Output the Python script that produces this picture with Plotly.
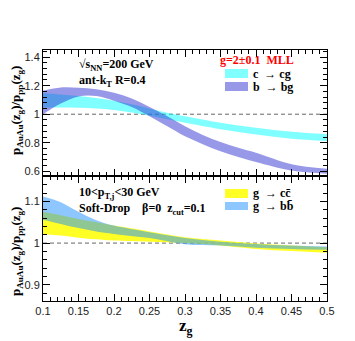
"""
Ratio of AuAu / pp groomed momentum-sharing distributions, heavy-flavour splittings
"""

import numpy as np
import plotly.graph_objects as go

# top panel: c -> cg and b -> bg bands
zg_c = [0.1, 0.125, 0.15, 0.175, 0.2, 0.225, 0.25, 0.275, 0.3, 0.35, 0.4, 0.45, 0.5]
c_cg_hi = [1.148, 1.138, 1.127, 1.113, 1.095, 1.07, 1.04, 1.01, 0.985, 0.94, 0.905, 0.877, 0.86]
c_cg_lo = [1.047, 1.047, 1.045, 1.040, 1.030, 1.012, 0.99, 0.965, 0.94, 0.895, 0.858, 0.828, 0.812]

zg_b = [0.1, 0.125, 0.15, 0.175, 0.2, 0.225, 0.25, 0.275, 0.3, 0.325, 0.35, 0.375, 0.4, 0.45, 0.5]
b_bg_hi = [1.165, 1.188, 1.186, 1.175, 1.150, 1.110, 1.050, 0.985, 0.915, 0.855, 0.805, 0.765, 0.730, 0.650, 0.618]
b_bg_lo = [1.000, 1.075, 1.125, 1.128, 1.095, 1.050, 0.985, 0.915, 0.845, 0.790, 0.740, 0.700, 0.665, 0.605, 0.583]

# bottom panel: g -> cc and g -> bb bands
zg_g = [0.1, 0.125, 0.15, 0.175, 0.2, 0.25, 0.3, 0.35, 0.4, 0.45, 0.5]
g_cc_hi = [1.075, 1.067, 1.058, 1.050, 1.042, 1.028, 1.014, 1.006, 0.999, 0.994, 0.990]
g_cc_lo = [1.022, 1.018, 1.013, 1.009, 1.006, 1.003, 1.000, 0.994, 0.986, 0.981, 0.977]
g_bb_hi = [1.112, 1.098, 1.075, 1.055, 1.042, 1.026, 1.012, 1.003, 0.998, 0.994, 0.992]
g_bb_lo = [1.056, 1.046, 1.036, 1.028, 1.022, 1.012, 0.997, 0.994, 0.989, 0.986, 0.984]

x_ticks = [0.1, 0.15, 0.2, 0.25, 0.3, 0.35, 0.4, 0.45, 0.5]
x_ticklabels = ['0.1', '0.15', '0.2', '0.25', '0.3', '0.35', '0.4', '0.45', '0.5']

W, H = 355, 341
L, R, T, B = 35, 319, 42, 293   # plot frame in pixels

SERIF = 'Liberation Serif'
SANS = 'Liberation Sans'

CYAN = 'rgba(0,255,255,0.5)'
PURPLE = 'rgba(50,50,210,0.5)'
YELLOW = 'rgba(255,255,0,0.85)'
BLUE = 'rgba(30,144,255,0.5)'


def px(xp):
    return (xp - L) / (R - L)


def py(yp):
    return (B - yp) / (B - T)


def add_band(fig, x, lo, hi, color, xa, ya):
    fig.add_trace(go.Scatter(x=x, y=lo, mode='lines', line=dict(width=0, shape='spline'),
                             showlegend=False, hoverinfo='skip', xaxis=xa, yaxis=ya))
    fig.add_trace(go.Scatter(x=x, y=hi, mode='lines', line=dict(width=0, shape='spline'),
                             fill='tonexty', fillcolor=color, showlegend=False,
                             xaxis=xa, yaxis=ya))


fig = go.Figure()
add_band(fig, zg_c, c_cg_lo, c_cg_hi, CYAN, 'x', 'y')
add_band(fig, zg_b, b_bg_lo, b_bg_hi, PURPLE, 'x', 'y')
add_band(fig, zg_g, g_cc_lo, g_cc_hi, YELLOW, 'x2', 'y2')
add_band(fig, zg_g, g_bb_lo, g_bb_hi, BLUE, 'x2', 'y2')

split = (B - 168) / (B - T)

axis_common = dict(
    showline=True, linecolor='black', linewidth=1, mirror='allticks',
    ticks='inside', ticklen=7, tickwidth=1, tickcolor='black',
    showgrid=False, zeroline=False,
    tickfont=dict(family=SANS, size=11, color='#222'),
)

fig.update_layout(
    width=W, height=H,
    margin=dict(l=L, r=W - R, t=T, b=H - B),
    paper_bgcolor='white', plot_bgcolor='white',
    xaxis=dict(axis_common, domain=[0, 1], anchor='y', range=[0.1, 0.5],
               tickvals=x_ticks, showticklabels=False,
               minor=dict(ticks='inside', ticklen=4, dtick=0.01, tick0=0.1, tickcolor='black')),
    yaxis=dict(axis_common, domain=[split, 1], anchor='x', range=[0.567, 1.45],
               tickvals=[0.6, 0.8, 1.0, 1.2, 1.4], ticktext=['0.6', '0.8', '1', '1.2', '1.4'],
               minor=dict(ticks='inside', ticklen=4, dtick=0.04, tick0=0.6, tickcolor='black')),
    xaxis2=dict(axis_common, domain=[0, 1], anchor='y2', range=[0.1, 0.5],
                tickvals=x_ticks, ticktext=x_ticklabels,
                minor=dict(ticks='inside', ticklen=4, dtick=0.01, tick0=0.1, tickcolor='black')),
    yaxis2=dict(axis_common, domain=[0, split], anchor='x2', range=[0.861, 1.161],
                tickvals=[0.9, 1.0, 1.1], ticktext=['0.9', '1', '1.1'],
                minor=dict(ticks='inside', ticklen=4, dtick=0.02, tick0=0.86, tickcolor='black')),
)

# reference lines at unity
for ya, xa in [('y', 'x'), ('y2', 'x2')]:
    fig.add_shape(type='line', xref=xa, yref=ya, x0=0.1, x1=0.5, y0=1, y1=1,
                  line=dict(color='#666', width=1, dash='4px,3px'), layer='below')

ann = []


def text(s, xp, yp, size=12, color='black', anchor='left', angle=0, family=SERIF):
    ann.append(dict(text=s, x=px(xp), y=py(yp), xref='paper', yref='paper',
                    xanchor=anchor, yanchor='middle', showarrow=False, textangle=angle,
                    font=dict(family=family, size=size, color=color)))


text('<b>√s<sub>NN</sub>=200 GeV</b>', 69, 57)
text('<b>ant-k<sub>T</sub> R=0.4</b>', 69, 73)
text('<b>g=2±0.1  MLL</b>', 210, 52, color='red')
text('<b>c\u00a0\u00a0→ cg</b>', 243, 66)
text('<b>b\u00a0\u00a0→ bg</b>', 243, 79)

text('<b>10<p<sub>T,j</sub><30 GeV</b>', 69, 185)
text('<b>Soft-Drop\u00a0\u00a0\u00a0\u00a0β=0\u00a0\u00a0z<sub>cut</sub>=0.1</b>', 69, 201)
text('<b>g\u00a0\u00a0→ cc\u0304</b>', 243, 185)
text('<b>g\u00a0\u00a0→ bb\u0304</b>', 243, 198)

ytitle = '<b>p<sub>AuAu</sub>(z<sub>g</sub>)/p<sub>pp</sub>(z<sub>g</sub>)</b>'
text(ytitle, 8, 103, size=13, anchor='center', angle=-90)
text(ytitle, 8, 244, size=13, anchor='center', angle=-90)
text('<b>z<sub>g</sub></b>', 178, 319, size=17, anchor='center')

fig.update_layout(annotations=ann)

# legend swatches
for y0, y1, col in [(61, 70, CYAN), (74, 83, PURPLE), (181, 190, YELLOW), (194, 202, BLUE)]:
    fig.add_shape(type='rect', xref='paper', yref='paper',
                  x0=px(217), x1=px(240), y0=py(y1), y1=py(y0),
                  fillcolor=col, line=dict(width=0))

fig.write_html("out.html")
